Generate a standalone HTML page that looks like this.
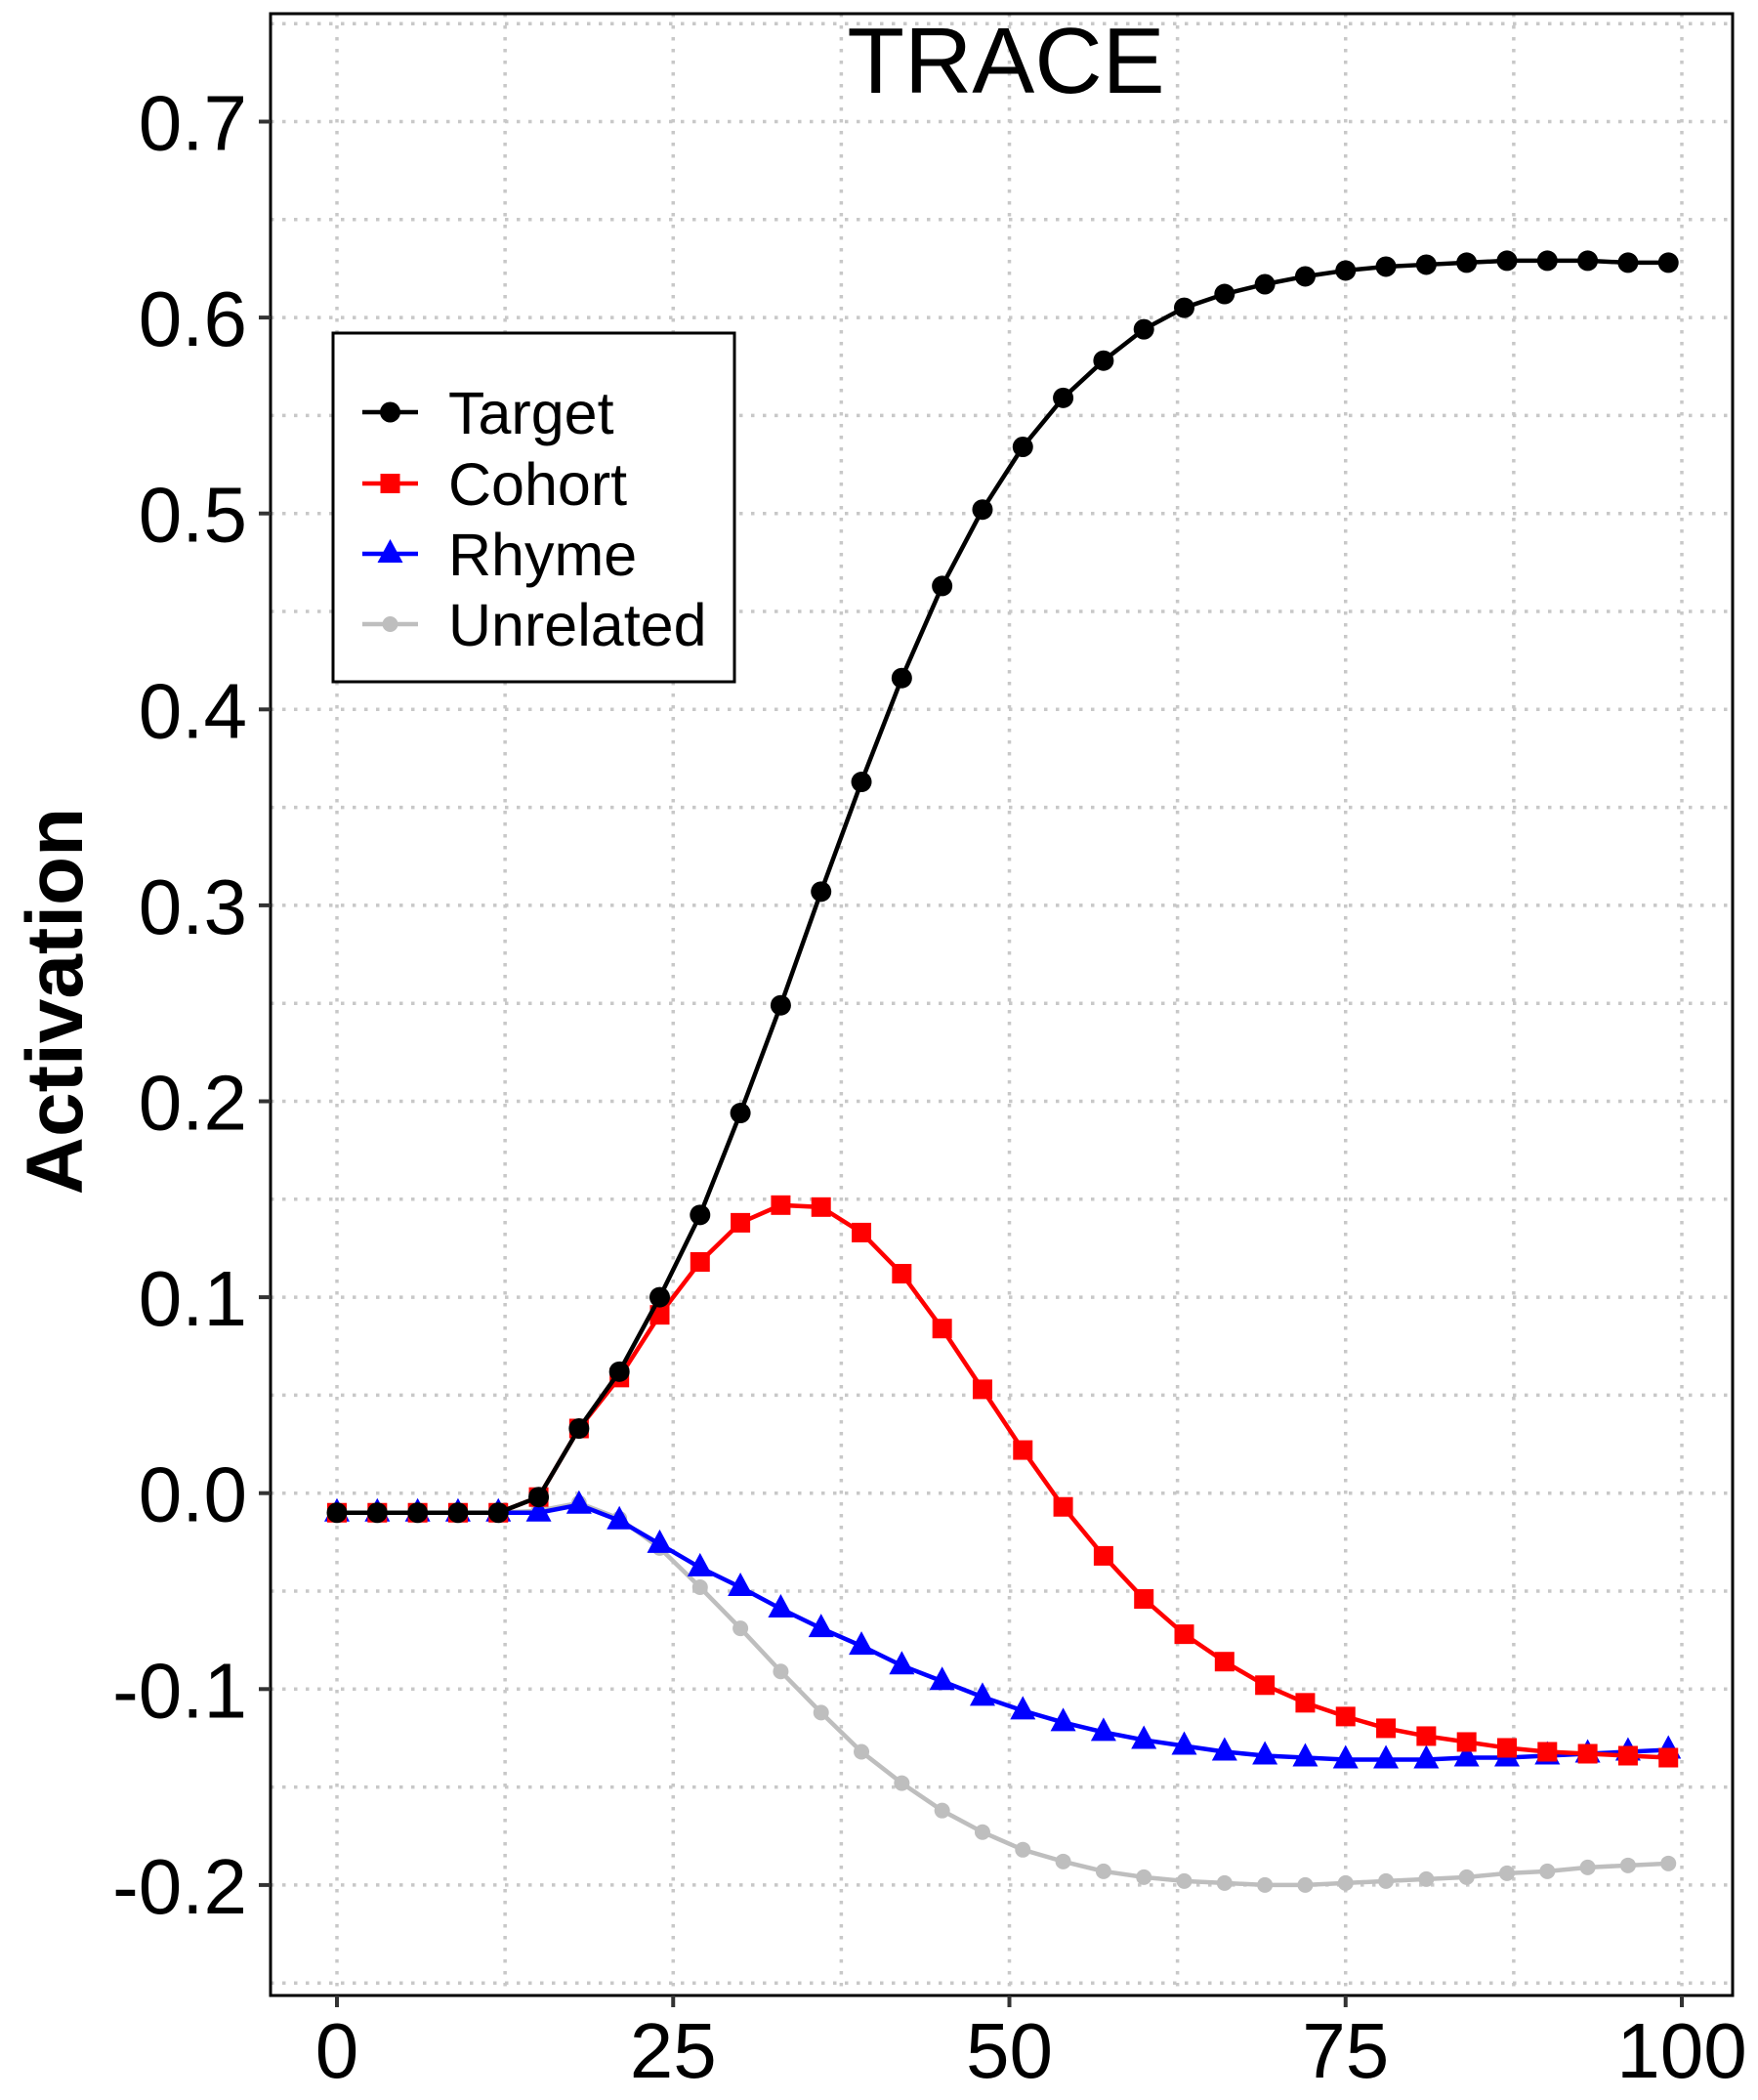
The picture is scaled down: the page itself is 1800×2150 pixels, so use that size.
<!DOCTYPE html>
<html><head><meta charset="utf-8"><style>
html,body{margin:0;padding:0;background:#fff;}
svg{display:block;font-family:"Liberation Sans",Arial,sans-serif;}
</style></head><body>
<svg id="chart" width="1800" height="2150" viewBox="0 0 1800 2150" xmlns="http://www.w3.org/2000/svg">
<rect width="1800" height="2150" fill="#fff"/>
<g id="grid"></g>
<g id="series"></g>
<rect x="277" y="14" width="1497" height="2029" fill="none" stroke="#000" stroke-width="3"/>
<g id="axes"></g>
<text x="1030" y="95" font-size="96" text-anchor="middle">TRACE</text>
<text transform="translate(84,1025) rotate(-90)" font-size="82" font-weight="bold" text-anchor="middle">Activation</text>
<g id="legend">
<rect x="341" y="341" width="411" height="357" fill="#fff" stroke="#000" stroke-width="3"/>
</g>
</svg>
<script>
const xs = [0,3,6,9,12,15,18,21,24,27,30,33,36,39,42,45,48,51,54,57,60,63,66,69,72,75,78,81,84,87,90,93,96,99];
const targetVals = [-0.01,-0.01,-0.01,-0.01,-0.01,-0.002,0.033,0.062,0.100,0.142,0.194,0.249,0.307,0.363,0.416,0.463,0.502,0.534,0.559,0.578,0.594,0.605,0.612,0.617,0.621,0.624,0.626,0.627,0.628,0.629,0.629,0.629,0.628,0.628];
const cohortVals = [-0.01,-0.01,-0.01,-0.01,-0.01,-0.002,0.033,0.059,0.091,0.118,0.138,0.147,0.146,0.133,0.112,0.084,0.053,0.022,-0.007,-0.032,-0.054,-0.072,-0.086,-0.098,-0.107,-0.114,-0.120,-0.124,-0.127,-0.130,-0.132,-0.133,-0.134,-0.135];
const rhymeVals = [-0.01,-0.01,-0.01,-0.01,-0.01,-0.01,-0.006,-0.014,-0.026,-0.038,-0.048,-0.059,-0.069,-0.078,-0.088,-0.096,-0.104,-0.111,-0.117,-0.122,-0.126,-0.129,-0.132,-0.134,-0.135,-0.136,-0.136,-0.136,-0.135,-0.135,-0.134,-0.133,-0.132,-0.131];
const unrelatedVals = [-0.01,-0.01,-0.01,-0.01,-0.01,-0.009,-0.005,-0.013,-0.028,-0.048,-0.069,-0.091,-0.112,-0.132,-0.148,-0.162,-0.173,-0.182,-0.188,-0.193,-0.196,-0.198,-0.199,-0.200,-0.200,-0.199,-0.198,-0.197,-0.196,-0.194,-0.193,-0.191,-0.190,-0.189];
const yTicks = [-0.2,-0.1,0.0,0.1,0.2,0.3,0.4,0.5,0.6,0.7];
const yTickLabels = ["-0.2","-0.1","0.0","0.1","0.2","0.3","0.4","0.5","0.6","0.7"];
const xTicks = [0,25,50,75,100];
const xTickLabels = ["0","25","50","75","100"];
const seriesNames = ["Target","Cohort","Rhyme","Unrelated"];

const NS="http://www.w3.org/2000/svg";
function X(v){return 345+v*13.77;}
function Y(v){return 1528.7-v*2006;}
function mk(tag,attrs,parent){const e=document.createElementNS(NS,tag);for(const k in attrs)e.setAttribute(k,attrs[k]);parent.appendChild(e);return e;}
const grid=document.getElementById('grid'),axes=document.getElementById('axes'),ser=document.getElementById('series'),leg=document.getElementById('legend');
const gy=[];for(let v=-0.25;v<=0.751;v+=0.05)gy.push(+v.toFixed(2));
gy.forEach(v=>{const l=mk('line',{x1:277,x2:1774,y1:Y(v),y2:Y(v),stroke:'#c8c8c8','stroke-width':3.5,'stroke-dasharray':'3.5 8.5'},grid);

});
for(let v=0;v<=100;v+=12.5){const l=mk('line',{x1:X(v),x2:X(v),y1:14,y2:2043,stroke:'#c8c8c8','stroke-width':3.5,'stroke-dasharray':'3.5 8.5'},grid);

}
yTicks.forEach((v,i)=>{const t=mk('line',{x1:265,x2:277,y1:Y(v),y2:Y(v),stroke:'#333','stroke-width':4},axes);


const tx=mk('text',{x:253,y:Y(v)+29,'font-size':80,'text-anchor':'end'},axes);tx.textContent=yTickLabels[i];

});
xTicks.forEach((v,i)=>{const t=mk('line',{x1:X(v),x2:X(v),y1:2043,y2:2055,stroke:'#333','stroke-width':4},axes);


const tx=mk('text',{x:X(v),y:2127,'font-size':80,'text-anchor':'middle'},axes);tx.textContent=xTickLabels[i];

});
function marker(shape,cx,cy,color,p){let e;
if(shape==='circle')e=mk('circle',{cx:cx,cy:cy,r:10.5,fill:color},p);
else if(shape==='small')e=mk('circle',{cx:cx,cy:cy,r:8,fill:color},p);
else if(shape==='square')e=mk('rect',{x:cx-10,y:cy-10,width:20,height:20,fill:color},p);
else e=mk('polygon',{points:`${cx},${cy-15} ${cx-13},${cy+9} ${cx+13},${cy+9}`,fill:color},p);
return e;}
const defs=[[unrelatedVals,'#bebebe','small',4.5],[rhymeVals,'#0000ff','tri',4.5],[cohortVals,'#ff0000','square',4.5],[targetVals,'#000000','circle',4.5]];
const order=[3,2,1,0];
defs.forEach((d,k)=>{const g=mk('g',{},ser);


const pts=xs.map((x,i)=>X(x)+','+Y(d[0][i])).join(' ');
const pl=mk('polyline',{points:pts,fill:'none',stroke:d[1],'stroke-width':d[3]},g);


xs.forEach((x,i)=>{const m=marker(d[2],X(x),Y(d[0][i]),d[1],g);

});});
const legY=[422,495,567,639];const legC=['#000000','#ff0000','#0000ff','#bebebe'];const legS=['circle','square','tri','small'];
seriesNames.forEach((n,i)=>{const g=mk('g',{},leg);


mk('line',{x1:371,x2:428,y1:legY[i],y2:legY[i],stroke:legC[i],'stroke-width':4.5},g);
marker(legS[i],399.5,legY[i],legC[i],g);
const t=mk('text',{x:459,y:legY[i]+22,'font-size':61},g);t.textContent=n;});
</script>
</body></html>
